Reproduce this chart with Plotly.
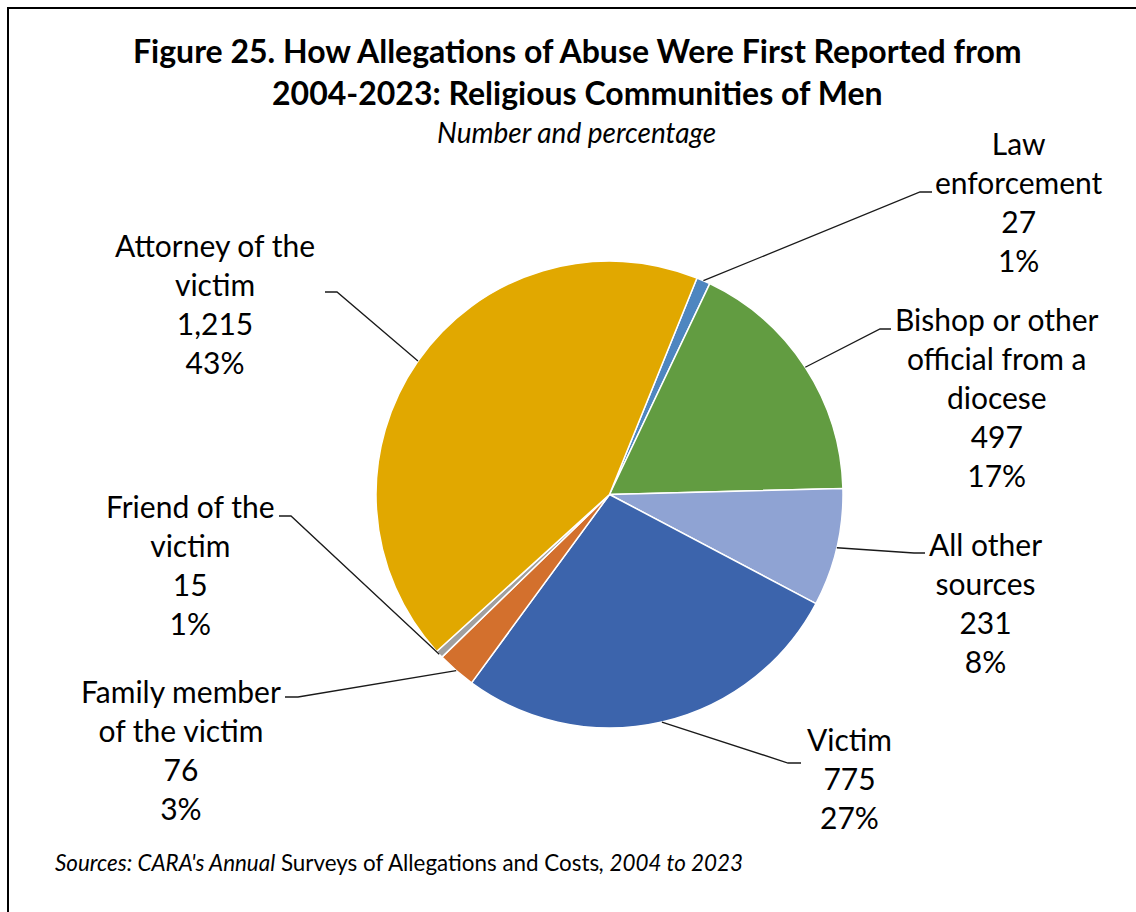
import math
import plotly.graph_objects as go

# Sources of first report, in clockwise order starting at the top
sources = [
    "Law enforcement",
    "Bishop or other official from a diocese",
    "All other sources",
    "Victim",
    "Family member of the victim",
    "Friend of the victim",
    "Attorney of the victim",
]
label_text = [
    "Law<br>enforcement",
    "Bishop or other<br>official from a<br>diocese",
    "All other<br>sources",
    "Victim",
    "Family member<br>of the victim",
    "Friend of the<br>victim",
    "Attorney of the<br>victim",
]
counts = [27, 497, 231, 775, 76, 15, 1215]
percent_labels = ["1%", "17%", "8%", "27%", "3%", "1%", "43%"]
colors = ["#4E86C0", "#629C41", "#8FA3D3", "#3C64AC", "#D3702D", "#A0A0A0", "#E1A800"]

W, H = 1136, 912
ROTATION = 22  # degrees clockwise from 12 o'clock where the first slice starts

# pie placement (pixels)
CX, CY, R = 609.5, 494.5, 233.5

# label block centres (pixels) and leader-line elbow / end points (pixels)
label_pos = [(1019, 202), (997, 397), (985, 602), (850, 778), (181, 749), (190, 564), (215, 304)]
elbows = [
    ((920, 192), (932, 192)),
    ((880, 329), (891, 329)),
    ((914, 553), (925, 553)),
    ((788, 763), (801, 763)),
    ((298, 697), (285, 697)),
    ((291, 516), (279, 516)),
    ((337, 292), (325, 292)),
]

FONT = "Lato, 'Open Sans', sans-serif"


def px(x):
    return x / W


def py(y):
    return 1 - y / H


fig = go.Figure(
    go.Pie(
        labels=sources,
        values=counts,
        sort=False,
        direction="clockwise",
        rotation=ROTATION,
        marker=dict(colors=colors, line=dict(color="white", width=1.5)),
        textinfo="none",
        hoverinfo="label+value+percent",
        showlegend=False,
        domain=dict(x=[px(CX - R), px(CX + R)], y=[py(CY + R), py(CY - R)]),
    )
)

total = sum(counts)
shapes = []
annotations = []

# outer frame
shapes.append(dict(type="rect", xref="paper", yref="paper",
                   x0=px(8), x1=1.05, y0=-0.05, y1=py(8),
                   line=dict(color="black", width=2)))

start = ROTATION
for i, v in enumerate(counts):
    span = v / total * 360
    mid = math.radians(start + span / 2)
    start += span
    sx = CX + R * math.sin(mid)
    sy = CY - R * math.cos(mid)
    (ex, ey), (tx, ty) = elbows[i]
    shapes.append(dict(
        type="path", xref="paper", yref="paper",
        path=f"M {px(sx)},{py(sy)} L {px(ex)},{py(ey)} L {px(tx)},{py(ty)}",
        line=dict(color="#1a1a1a", width=1.3),
    ))
    lx, ly = label_pos[i]
    annotations.append(dict(
        x=px(lx), y=py(ly), xref="paper", yref="paper",
        text=f"{label_text[i]}<br>{counts[i]:,}<br>{percent_labels[i]}",
        showarrow=False, xanchor="center", yanchor="middle", align="center",
        font=dict(family=FONT, size=30, color="black"),
    ))

# titles
annotations.append(dict(
    x=px(577), y=py(71), xref="paper", yref="paper",
    text="<b>Figure 25. How Allegations of Abuse Were First Reported from<br>2004-2023: Religious Communities of Men</b>",
    showarrow=False, xanchor="center", yanchor="middle", align="center",
    font=dict(family=FONT, size=32, color="black"),
))
annotations.append(dict(
    x=px(576), y=py(132), xref="paper", yref="paper",
    text="<i>Number and percentage</i>",
    showarrow=False, xanchor="center", yanchor="middle",
    font=dict(family=FONT, size=28, color="black"),
))
annotations.append(dict(
    x=px(53), y=py(862), xref="paper", yref="paper",
    text="<i>Sources: CARA's Annual</i> Surveys of Allegations and Costs<i>, 2004 to 2023</i>",
    showarrow=False, xanchor="left", yanchor="middle",
    font=dict(family=FONT, size=22.4, color="black"),
))

fig.update_layout(
    width=W, height=H,
    margin=dict(l=0, r=0, t=0, b=0),
    paper_bgcolor="white",
    plot_bgcolor="white",
    shapes=shapes,
    annotations=annotations,
)

fig.write_html("out.html")
